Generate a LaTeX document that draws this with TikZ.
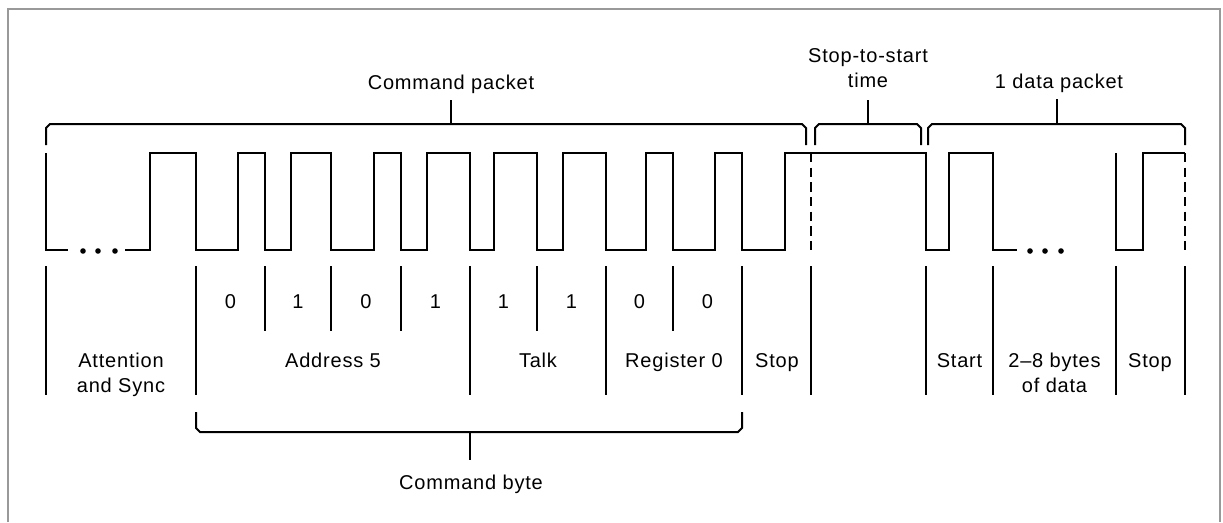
\documentclass[tikz,border=0pt]{standalone}
\usepackage{fontspec}
\setmainfont{Liberation Sans}[LetterSpace=4]
\begin{document}
\begin{tikzpicture}[x=0.75pt,y=-0.75pt,
  sig/.style={line width=1.5pt,line join=miter},
  bnd/.style={line width=1.5pt},
  dsh/.style={line width=1.5pt,dash pattern=on 7pt off 4pt},
  brc/.style={line width=1.5pt,line join=miter},
  dotm/.style={fill=black,draw=none},
  frm/.style={draw=black!40,line width=2pt},
  lbl/.style={font=\fontsize{15}{18.75}\selectfont,inner sep=0pt,align=center}]
\useasboundingbox (0,0) rectangle (1223,522);
% frame (open at the bottom)
\draw[frm] (8,522) -- (8,9) -- (1220,9) -- (1220,522);

% ---------- waveform ----------
\draw[sig] (46,153) -- (46,250) -- (68,250);
\foreach \x in {83,98,115} \fill[dotm] (\x,251) circle (2.8);
\draw[sig] (125,250) -- (150,250) -- (150,153) -- (196,153) -- (196,250)
  -- (238,250) -- (238,153) -- (265,153) -- (265,250)
  -- (291,250) -- (291,153) -- (331,153) -- (331,250)
  -- (374,250) -- (374,153) -- (401,153) -- (401,250)
  -- (427,250) -- (427,153) -- (470,153) -- (470,250)
  -- (494,250) -- (494,153) -- (537,153) -- (537,250)
  -- (563,250) -- (563,153) -- (606,153) -- (606,250)
  -- (646,250) -- (646,153) -- (673,153) -- (673,250)
  -- (715,250) -- (715,153) -- (742,153) -- (742,250)
  -- (785,250) -- (785,153) -- (926,153) -- (926,250)
  -- (949,250) -- (949,153) -- (993,153) -- (993,250) -- (1017,250);
\foreach \x in {1030,1045,1061} \fill[dotm] (\x,251) circle (2.8);
\draw[sig] (1116,153) -- (1116,250) -- (1143,250) -- (1143,153) -- (1185,153);
\draw[dsh] (811,153) -- (811,250);
\draw[dsh] (1185,153) -- (1185,250);

% ---------- top braces ----------
\coordinate (cpt) at (451,124);
\coordinate (sst) at (868,124);
\coordinate (dpt) at (1057,124);
\draw[brc] (46,145) -- (46,128) -- (50,124) -- (802,124) -- (806,128) -- (806,145);
\draw[brc] (815,145) -- (815,128) -- (819,124) -- (917,124) -- (921,128) -- (921,145);
\draw[brc] (928,145) -- (928,128) -- (932,124) -- (1181,124) -- (1185,128) -- (1185,145);
\node[lbl,anchor=base] (cpl) at (451,89) {Command packet};
\node[lbl,anchor=south] (ssl) at (868,88.3) {Stop-to-start\\time};
\node[lbl,anchor=base] (dpl) at (1059,88) {1 data packet};
\draw[bnd,shorten >=5pt] (cpt) -- (cpt |- cpl.south);
\draw[bnd,shorten >=8.7pt] (sst) -- (sst |- ssl.south);
\draw[bnd,shorten >=5pt] (dpt) -- (dpt |- dpl.south);

% ---------- field boundaries ----------
\foreach \x in {46,196,470,606,742,811,926,993,1116,1185}
  \draw[bnd] (\x,266) -- (\x,395);
\foreach \x in {265,331,401,537,673}
  \draw[bnd] (\x,266) -- (\x,331);

% bit values
\node[lbl,anchor=base] (b1) at (230.5,308) {0};
\node[lbl,anchor=base] (b2) at (298,308) {1};
\node[lbl,anchor=base] (b3) at (366,308) {0};
\node[lbl,anchor=base] (b4) at (435.5,308) {1};
\node[lbl,anchor=base] (b5) at (503.5,308) {1};
\node[lbl,anchor=base] (b6) at (571.5,308) {1};
\node[lbl,anchor=base] (b7) at (639.5,308) {0};
\node[lbl,anchor=base] (b8) at (707.5,308) {0};

% field names
\node[lbl,anchor=base] (att) at (121,392) {Attention\\and Sync};
\node[lbl,anchor=base] (adr) at (333,367) {Address 5};
\node[lbl,anchor=base] (tlk) at (538,367) {Talk};
\node[lbl,anchor=base] (reg) at (674,367) {Register 0};
\node[lbl,anchor=base] (stp1) at (777,367) {Stop};
\node[lbl,anchor=base] (sta) at (959.5,367) {Start};
\node[lbl,anchor=base] (dat) at (1054.5,392) {2–8 bytes\\of data};
\node[lbl,anchor=base] (stp2) at (1150,367) {Stop};

% ---------- command byte brace ----------
\coordinate (cbt) at (470,432);
\draw[brc] (196,412) -- (196,428) -- (200,432) -- (738,432) -- (742,428) -- (742,412);
\node[lbl,anchor=base] (cbl) at (471,489) {Command byte};
\draw[bnd,shorten >=11pt] (cbt) -- (cbt |- cbl.north);
\end{tikzpicture}
\end{document}
